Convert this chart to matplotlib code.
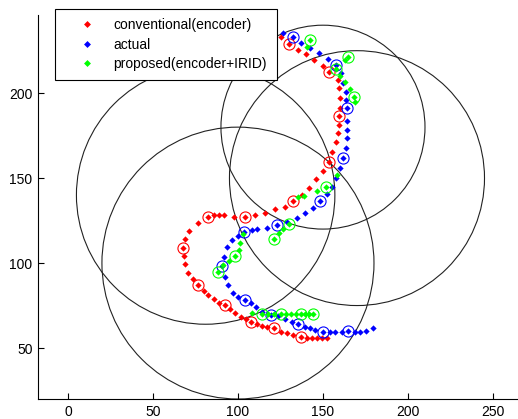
import numpy as np
import matplotlib
matplotlib.use('Agg')
import matplotlib.pyplot as plt
from matplotlib.patches import Circle

plt.rcParams['font.family'] = ['Liberation Sans', 'DejaVu Sans']

# conventional (encoder) trajectory
conv_x = [125.1, 130.2, 135.1, 140.0, 144.9, 150.2, 153.5, 158.6, 159.4, 160.0,
          160.0, 159.6, 159.6, 158.6, 157.6, 155.5, 153.7, 150.2, 145.9, 141.9,
          137.5, 132.5, 127.6, 121.8, 115.9, 110.0, 104.1, 97.8, 91.9, 88.8,
          86.1, 82.5, 76.3, 71.4, 68.8, 67.8, 68.2, 68.8, 70.8, 73.7,
          76.6, 80.2, 82.5, 86.1, 88.8, 92.4, 95.3, 98.2, 101.8, 104.7,
          107.6, 111.0, 113.9, 117.2, 121.2, 125.1, 128.6, 132.2, 136.9, 140.4,
          143.3, 146.3, 149.2, 152.5]
conv_y = [233.1, 229.2, 225.3, 222.8, 219.8, 215.9, 212.2, 207.6, 202.8, 197.0,
          191.0, 186.5, 181.2, 176.3, 171.4, 165.5, 159.6, 154.1, 149.4, 144.3,
          140.0, 136.5, 133.1, 131.6, 129.2, 128.2, 127.2, 127.2, 128.2, 128.2,
          128.2, 127.2, 123.4, 119.0, 113.9, 109.0, 104.1, 99.2, 94.3, 90.4,
          87.1, 83.7, 81.2, 78.6, 76.6, 75.3, 72.8, 70.8, 68.4, 66.9,
          65.5, 64.1, 62.9, 62.4, 61.6, 59.6, 58.6, 57.6, 56.3, 55.7,
          55.7, 55.7, 55.7, 55.7]
conv_mark = [1, 6, 11, 16, 21, 26, 31, 35, 40, 45, 50, 54, 58]

# actual trajectory
act_x = [126.6, 132.2, 136.9, 142.4, 147.8, 152.9, 157.6, 160.4, 161.9, 163.5,
         163.8, 164.3, 164.3, 164.3, 164.3, 163.5, 161.9, 160.0, 157.6, 155.1,
         152.2, 148.2, 144.3, 139.4, 134.5, 128.8, 122.8, 116.9, 111.0, 108.1,
         103.7, 100.2, 96.3, 93.4, 91.9, 90.4, 92.4, 94.3, 96.9, 100.0,
         104.1, 107.6, 110.4, 113.9, 119.7, 123.7, 127.6, 131.6, 135.5, 139.4,
         142.4, 145.3, 150.2, 154.1, 157.1, 161.0, 164.9, 168.8, 171.8, 175.3,
         179.6]
act_y = [235.5, 232.8, 229.6, 226.8, 223.4, 220.0, 216.5, 211.6, 205.7, 200.8,
         195.9, 191.0, 183.7, 178.6, 173.4, 167.5, 161.6, 155.7, 150.0, 144.9,
         140.6, 136.6, 132.2, 129.2, 126.3, 124.1, 122.4, 120.8, 119.8, 119.4,
         118.4, 115.9, 113.5, 109.6, 103.7, 98.2, 91.9, 87.1, 82.5, 80.0,
         78.2, 76.3, 74.3, 71.4, 69.4, 68.8, 66.9, 65.5, 64.1, 62.5,
         61.6, 60.6, 59.6, 59.6, 59.6, 59.6, 60.2, 59.6, 59.6, 60.2,
         61.6]
act_mark = [1, 6, 11, 16, 21, 26, 30, 35, 40, 44, 48, 52, 56]

# proposed (encoder+IRID) trajectory
prop_x = [142.4, 140.4, 164.9, 162.9, 157.6, 160.0, 162.9, 165.9, 168.5, 168.8,
          158.2, 151.8, 146.5, 138.8, 135.3, 130.2, 126.6, 124.1, 121.2, 102.9,
          101.2, 100.6, 98.2, 94.7, 91.2, 88.2, 108.2, 113.9, 117.6, 121.2,
          125.3, 128.2, 131.2, 134.1, 136.9, 139.4, 141.8, 144.3]
prop_y = [231.2, 227.2, 221.4, 219.4, 214.1, 210.0, 206.5, 202.4, 197.9, 194.7,
          151.8, 145.0, 142.6, 139.4, 139.1, 122.9, 120.3, 117.5, 113.9, 117.1,
          111.9, 107.6, 104.1, 101.2, 98.8, 95.0, 70.6, 70.3, 70.3, 70.3,
          70.3, 70.3, 70.3, 70.3, 70.3, 70.3, 70.3, 70.3]
prop_mark = [0, 2, 4, 8, 11, 15, 18, 22, 25, 27, 30, 34, 37]

# IRID detection ranges
circ_x = [81, 100, 150, 170]
circ_y = [140, 100, 180, 150]
circ_r = [76, 80, 60, 75]

fig = plt.figure(figsize=(5.18, 4.19), dpi=100)
ax = fig.add_axes([38/518, 20/419, 480/518, 384/419])

for cx, cy, r in zip(circ_x, circ_y, circ_r):
    ax.add_patch(Circle((cx, cy), r, fill=False, ec='#222222', lw=0.8))

series = [(conv_x, conv_y, conv_mark, 'r', 'conventional(encoder)'),
          (act_x, act_y, act_mark, 'b', 'actual'),
          (prop_x, prop_y, prop_mark, '#00ff00', 'proposed(encoder+IRID)')]
handles = []
for xs, ys, mk, c, lab in series:
    xs = np.array(xs); ys = np.array(ys)
    h, = ax.plot(xs, ys, ls='none', marker='D', ms=3.2, mew=0, color=c, label=lab)
    ax.plot(xs[mk], ys[mk], ls='none', marker='o', ms=8, mfc='none', mec=c, mew=0.8)
    handles.append(h)

ax.set_xlim(-17.6, 264.7)
ax.set_ylim(20, 246)
ax.set_xticks([0, 50, 100, 150, 200, 250])
ax.set_yticks([50, 100, 150, 200])
ax.spines['top'].set_visible(False)
ax.spines['right'].set_visible(False)
ax.tick_params(direction='in', length=4, width=0.8, labelsize=10, pad=4)

leg = ax.legend(handles=handles, loc='upper left',
                bbox_to_anchor=(55/518, 1 - 77.7/419, 222/518, 68.4/419),
                bbox_transform=fig.transFigure, mode='expand',
                fancybox=False, framealpha=1, edgecolor='black',
                fontsize=10, handlelength=3.27, handletextpad=0.28,
                borderpad=0.65, labelspacing=0.38, borderaxespad=0,
                markerscale=1.1)
leg.get_frame().set_linewidth(0.8)

plt.savefig('out.png', dpi=100)
plt.close(fig)
